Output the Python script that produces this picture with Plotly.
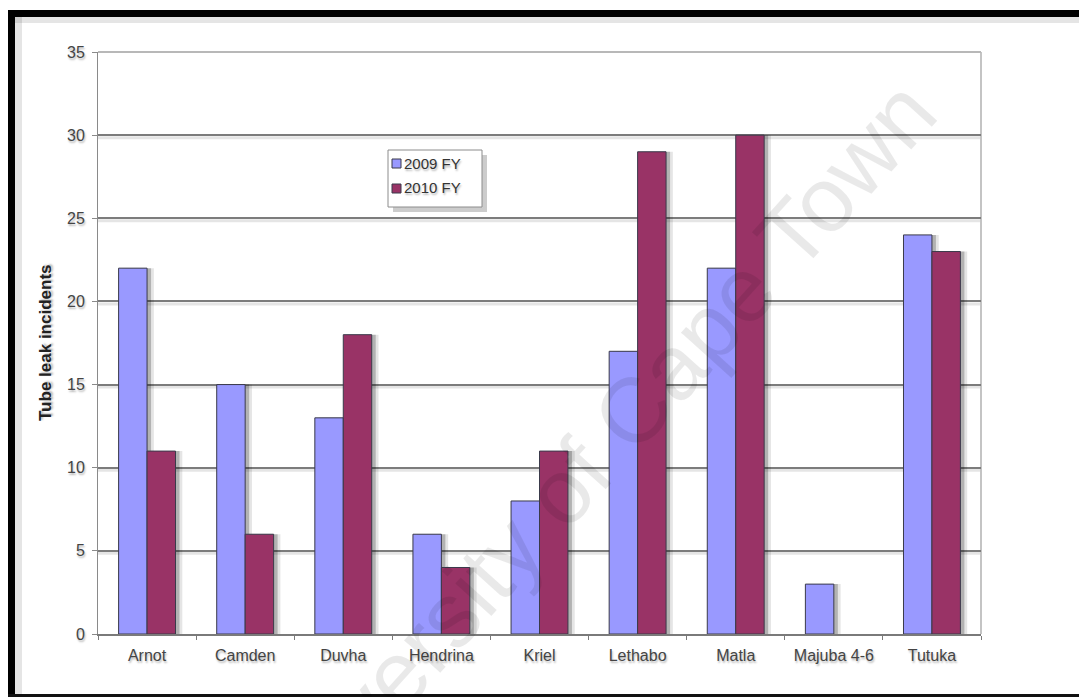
import plotly.graph_objects as go

# Tube leak incidents per power station, two financial years
stations = ["Arnot", "Camden", "Duvha", "Hendrina", "Kriel",
            "Lethabo", "Matla", "Majuba 4-6", "Tutuka"]
fy2009 = [22, 15, 13, 6, 8, 17, 22, 3, 24]
fy2010 = [11, 6, 18, 4, 11, 29, 30, 0, 23]
series_names = ["2009 FY", "2010 FY"]
y_ticks = [0, 5, 10, 15, 20, 25, 30, 35]

W, H = 1079, 697
L, R, T, B = 98, 98, 52, 63
PW, PH = W - L - R, H - T - B
Y_MAX = 35

BLUE = "#9999FF"
PLUM = "#993366"
EDGE = "#3a3a4a"
FONT = "Liberation Sans, Arial, sans-serif"
TXT_SHADOW = "1px 2px 2px rgba(0,0,0,0.28)"

BAR_W = 0.29
SHIFT = 4 / (PW / len(stations))  # drop-shadow offset in category units


def px_x(px):
    return (px - L) / PW


def px_y(py):
    return (H - B - py) / PH


def edge_widths(vals):
    # no outline on empty (zero) bars
    return [1 if v else 0 for v in vals]


fig = go.Figure()

# soft drop shadows behind the bars
for vals, off in ((fy2009, -BAR_W), (fy2010, 0.0)):
    for dx, a in ((SHIFT * 1.7, 0.10), (SHIFT, 0.22)):
        fig.add_trace(go.Bar(
            x=stations, y=vals, width=BAR_W, offset=off + dx,
            marker=dict(color=f"rgba(0,0,0,{a})", line=dict(width=0)),
            showlegend=False, hoverinfo="skip",
        ))

fig.add_trace(go.Bar(
    name=series_names[0], x=stations, y=fy2009, width=BAR_W, offset=-BAR_W,
    marker=dict(color=BLUE, line=dict(color=EDGE, width=edge_widths(fy2009))),
    showlegend=False,
))
fig.add_trace(go.Bar(
    name=series_names[1], x=stations, y=fy2010, width=BAR_W, offset=0.0,
    marker=dict(color=PLUM, line=dict(color=EDGE, width=edge_widths(fy2010))),
    showlegend=False,
))

shapes = []
# faint shadow under each gridline
dy = 2.5 * Y_MAX / PH
for v in y_ticks[1:-1]:
    shapes.append(dict(type="line", xref="paper", yref="y", x0=0, x1=1,
                       y0=v - dy, y1=v - dy,
                       line=dict(color="rgba(0,0,0,0.10)", width=3), layer="below"))

# plot-area outline (light grey top and right edges)
shapes.append(dict(type="line", xref="paper", yref="paper", x0=0, x1=1, y0=1, y1=1,
                   line=dict(color="#b8b8b8", width=2), layer="above"))
shapes.append(dict(type="line", xref="paper", yref="paper", x0=1, x1=1, y0=0, y1=1,
                   line=dict(color="#c4c4c4", width=2), layer="below"))

# legend box with drop shadow and colour keys
LG_X0, LG_X1, LG_Y0, LG_Y1 = 388, 482, 150, 207
shapes += [
    dict(type="rect", xref="paper", yref="paper",
         x0=px_x(LG_X0 + 5), x1=px_x(LG_X1 + 5), y0=px_y(LG_Y1 + 5), y1=px_y(LG_Y0 + 5),
         fillcolor="rgba(0,0,0,0.20)", line=dict(width=0), layer="above"),
    dict(type="rect", xref="paper", yref="paper",
         x0=px_x(LG_X0), x1=px_x(LG_X1), y0=px_y(LG_Y1), y1=px_y(LG_Y0),
         fillcolor="white", line=dict(color="#8c8c8c", width=1), layer="above"),
]
key_rows = [163, 188]
for row, col in zip(key_rows, (BLUE, PLUM)):
    shapes.append(dict(type="rect", xref="paper", yref="paper",
                       x0=px_x(392), x1=px_x(401), y0=px_y(row + 5), y1=px_y(row - 4),
                       fillcolor=col, line=dict(color=EDGE, width=1), layer="above"))

# black frame: left and top bars with a soft inner shade, thin bottom rule
shapes += [
    dict(type="rect", xref="paper", yref="paper", x0=px_x(15), x1=px_x(22),
         y0=px_y(H), y1=px_y(17), fillcolor="rgba(0,0,0,0.10)", line=dict(width=0)),
    dict(type="rect", xref="paper", yref="paper", x0=px_x(15), x1=px_x(W),
         y0=px_y(23), y1=px_y(17), fillcolor="rgba(0,0,0,0.10)", line=dict(width=0)),
    dict(type="rect", xref="paper", yref="paper", x0=px_x(8), x1=px_x(15),
         y0=px_y(H), y1=px_y(10), fillcolor="#000000", line=dict(width=0)),
    dict(type="rect", xref="paper", yref="paper", x0=px_x(8), x1=px_x(W),
         y0=px_y(17), y1=px_y(10), fillcolor="#000000", line=dict(width=0)),
    dict(type="rect", xref="paper", yref="paper", x0=px_x(8), x1=px_x(W),
         y0=px_y(697), y1=px_y(694), fillcolor="#111111", line=dict(width=0)),
]

annotations = [
    dict(text="<b>Tube leak incidents</b>", xref="paper", yref="paper",
         x=px_x(45), y=0.5, textangle=-90, showarrow=False,
         xanchor="center", yanchor="middle",
         font=dict(family=FONT, size=17, color="#222222", shadow=TXT_SHADOW)),
    dict(text="University of Cape Town", xref="paper", yref="paper",
         x=px_x(586), y=px_y(463), textangle=-48, showarrow=False,
         xanchor="center", yanchor="middle",
         font=dict(family=FONT, size=92, color="rgba(0,0,0,0.085)")),
]
for row, name in zip(key_rows, series_names):
    annotations.append(dict(
        text=name, xref="paper", yref="paper", x=px_x(402), y=px_y(row),
        xanchor="left", yanchor="middle", showarrow=False,
        font=dict(family=FONT, size=15, color="#333333", shadow=TXT_SHADOW)))

fig.update_layout(
    width=W, height=H,
    margin=dict(l=L, r=R, t=T, b=B, pad=0),
    paper_bgcolor="white", plot_bgcolor="white",
    barmode="overlay",
    showlegend=False,
    xaxis=dict(
        type="category", range=[-0.5, len(stations) - 0.5],
        showgrid=False, zeroline=False,
        showline=True, linecolor="#7a7a7a", linewidth=2,
        ticks="outside", tickson="boundaries", ticklen=4, tickcolor="#7a7a7a",
        ticklabelstandoff=6,
        tickfont=dict(family=FONT, size=16, color="#444444", shadow=TXT_SHADOW),
    ),
    yaxis=dict(
        range=[0, Y_MAX], tickvals=y_ticks,
        showgrid=True, gridcolor="#7c7c7c", gridwidth=2,
        zeroline=False,
        showline=True, linecolor="#8a8a8a", linewidth=1,
        ticks="outside", ticklen=5, tickcolor="#8a8a8a",
        ticklabelstandoff=4,
        tickfont=dict(family=FONT, size=16, color="#444444", shadow=TXT_SHADOW),
    ),
    shapes=shapes,
    annotations=annotations,
)

fig.write_html("out.html")
